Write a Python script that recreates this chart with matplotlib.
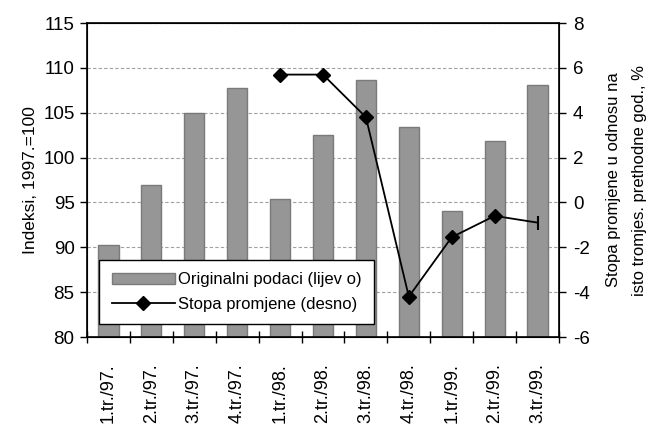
import numpy as np
import matplotlib.pyplot as plt

plt.rcParams['font.family'] = ['Liberation Sans', 'DejaVu Sans']
plt.rcParams['axes.unicode_minus'] = False

quarters = ['1.tr./97.', '2.tr./97.', '3.tr./97.', '4.tr./97.', '1.tr./98.', '2.tr./98.',
            '3.tr./98.', '4.tr./98.', '1.tr./99.', '2.tr./99.', '3.tr./99.']
indices = [90.2, 96.9, 105.0, 107.8, 95.4, 102.5, 108.7, 103.4, 94.1, 101.8, 108.1]
rate_quarters = quarters[4:]
rates = [5.7, 5.7, 3.8, -4.2, -1.55, -0.6, -0.9]

x = np.arange(len(quarters))
xr = x[4:]
fs = 12
tfs = 13.5

fig = plt.figure(figsize=(6.48, 4.25), dpi=100)
ax = fig.add_axes([87 / 648, 1 - 337 / 425, 472 / 648, 314 / 425])

bars = ax.bar(x, indices, width=0.47, color='#969696', edgecolor='#7a7a7a', linewidth=1.0,
              zorder=2)
ax.set_ylim(80, 115)
ax.set_yticks(np.arange(80, 116, 5))
ax.set_xlim(-0.5, len(quarters) - 0.5)
ax.grid(axis='y', color='#a0a0a0', linestyle=(0, (3, 2)), linewidth=0.8, zorder=0)
ax.set_axisbelow(True)
ax.set_xticks(x)
ax.set_xticklabels(quarters, rotation=90, fontsize=13)
ax.tick_params(axis='x', length=0, pad=19)
ax.set_xticks(np.arange(-0.5, len(quarters), 1), minor=True)
ax.tick_params(axis='x', which='minor', length=9, direction='inout', width=1)
ax.tick_params(axis='y', labelsize=tfs, length=5, width=1, pad=4)
ax.set_ylabel('Indeksi, 1997.=100', fontsize=12.5, labelpad=4)
for s in ax.spines.values():
    s.set_linewidth(1.2)

ax2 = ax.twinx()
line, = ax2.plot(xr[:-1], rates[:-1], color='black', marker='D', markersize=7, linewidth=1.3,
                 zorder=3)
ax2.plot(xr[-2:], rates[-2:], color='black', linewidth=1.3, zorder=3)
ax2.plot(xr[-1:], rates[-1:], color='black', marker='|', markersize=10, markeredgewidth=1.5)
ax2.set_ylim(-6, 8)
ax2.set_yticks(np.arange(-6, 9, 2))
ax2.tick_params(axis='y', labelsize=tfs, length=5, width=1, pad=5)
ax2.set_ylabel('Stopa promjene u odnosu na\nisto tromjes. prethodne god., %', fontsize=fs,
               labelpad=12, linespacing=1.85)

leg = ax.legend([bars, line], ['Originalni podaci (lijev o)', 'Stopa promjene (desno)'],
                loc='lower left', bbox_to_anchor=(12 / 472, 13 / 314), borderaxespad=0,
                fontsize=fs, frameon=True, fancybox=False, edgecolor='black', framealpha=1,
                handlelength=3.8, handletextpad=0.2, borderpad=0.75, labelspacing=0.55)
leg.get_frame().set_linewidth(1.0)
leg.set_zorder(5)

fig.savefig('out.png', dpi=100)
